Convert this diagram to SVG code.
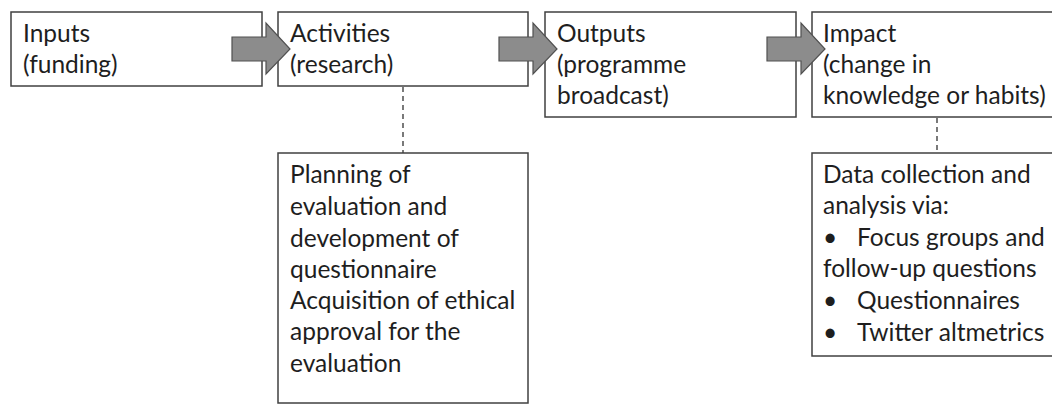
<svg xmlns="http://www.w3.org/2000/svg" width="1052" height="412" viewBox="0 0 1052 412">
<style>
.box{fill:#fff;stroke:#404040;stroke-width:1.5}
.arrow{fill:#8c8c8c;stroke:#505050;stroke-width:1.2;stroke-linejoin:miter}
.dash{stroke:#333;stroke-width:1.3;stroke-dasharray:5,4;fill:none}
text{font-family:"Lato","Liberation Sans",sans-serif;font-size:24.5px;fill:#1e1e1e}
</style>
<rect width="1052" height="412" fill="#fff"/>
<g id="connectors">
<line class="dash" x1="403" y1="87" x2="403" y2="153"/>
<line class="dash" x1="937" y1="118" x2="937" y2="153"/>
</g>
<g id="inputs">
<rect class="box" x="11" y="12" width="251" height="74"/>
<text x="23" y="42">Inputs</text>
<text x="23" y="73">(funding)</text>
</g>
<g id="activities">
<rect class="box" x="278" y="12" width="250" height="74"/>
<text x="290" y="42">Activities</text>
<text x="290" y="73">(research)</text>
</g>
<g id="outputs">
<rect class="box" x="545" y="12" width="251" height="105"/>
<text x="557" y="42">Outputs</text>
<text x="557" y="73">(programme</text>
<text x="557" y="104">broadcast)</text>
</g>
<g id="impact">
<rect class="box" x="812" y="12" width="260" height="105"/>
<text x="823" y="42">Impact</text>
<text x="823" y="73">(change in</text>
<text x="823" y="104">knowledge or habits)</text>
</g>
<g id="planning">
<rect class="box" x="278" y="153" width="250" height="250"/>
<text x="290" y="183">Planning of</text>
<text x="290" y="215">evaluation and</text>
<text x="290" y="247">development of</text>
<text x="290" y="278">questionnaire</text>
<text x="290" y="309">Acquisition of ethical</text>
<text x="290" y="340">approval for the</text>
<text x="290" y="372">evaluation</text>
</g>
<g id="data">
<rect class="box" x="812" y="153" width="260" height="203"/>
<text x="823" y="183">Data collection and</text>
<text x="823" y="214">analysis via:</text>
<text x="823" y="246">•</text>
<text x="857" y="246">Focus groups and</text>
<text x="823" y="277">follow-up questions</text>
<text x="823" y="309">•</text>
<text x="857" y="309">Questionnaires</text>
<text x="823" y="341">•</text>
<text x="857" y="341">Twitter altmetrics</text>
</g>
<g id="arrows">
<polygon class="arrow" points="232,37 266,37 266,23 290,49 266,74 266,61 232,61"/>
<polygon class="arrow" points="499,37 533,37 533,23 557,49 533,74 533,61 499,61"/>
<polygon class="arrow" points="767,37 801,37 801,23 825,49 801,74 801,61 767,61"/>
</g>
</svg>
